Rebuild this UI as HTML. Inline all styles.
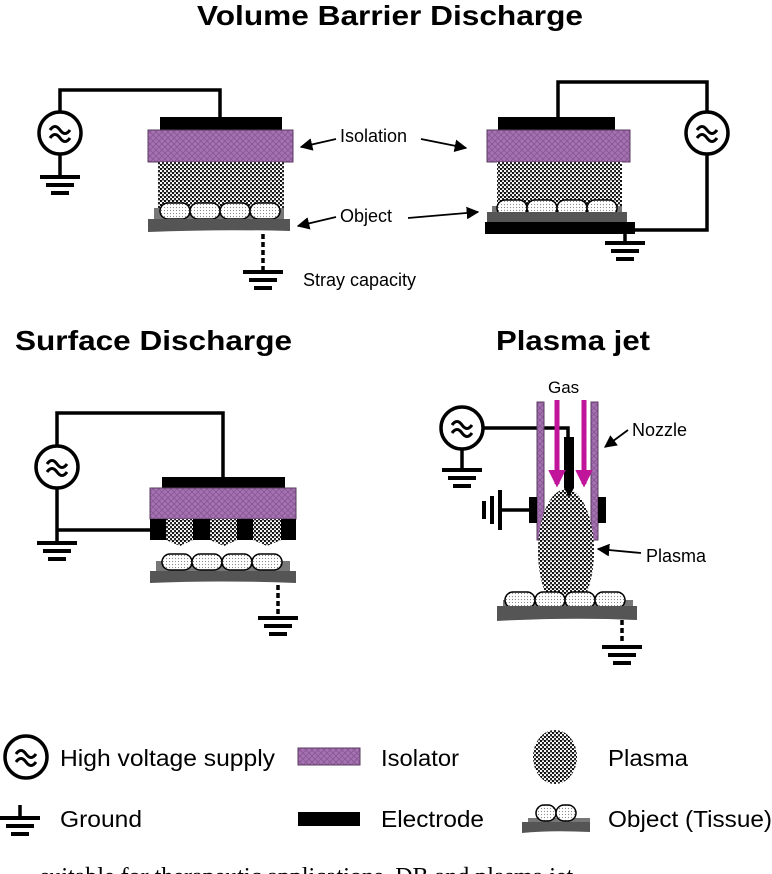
<!DOCTYPE html><html><head><meta charset="utf-8"><style>html,body{margin:0;padding:0;background:#fff}svg{display:block}</style></head><body>
<svg width="772" height="874" viewBox="0 0 772 874" xmlns="http://www.w3.org/2000/svg" font-family="Liberation Sans, Arial, sans-serif">
<defs>
<pattern id="pl" width="4" height="4" patternUnits="userSpaceOnUse"><rect width="4" height="4" fill="#fff"/><circle cx="1" cy="1" r="1.1" fill="#000"/><circle cx="3" cy="3" r="1.1" fill="#111"/><circle cx="3" cy="0.5" r="0.5" fill="#333"/></pattern>
<pattern id="iso" width="6" height="6" patternUnits="userSpaceOnUse"><rect width="6" height="6" fill="#a772b3"/><path d="M0 0L6 6M6 0L0 6" stroke="#8a5a96" stroke-width="1"/></pattern>
<pattern id="cell" width="3" height="3" patternUnits="userSpaceOnUse"><rect width="3" height="3" fill="#fff"/><circle cx="1.5" cy="1.5" r="0.6" fill="#888"/></pattern>
<marker id="ar" viewBox="0 0 10 10" refX="9" refY="5" markerWidth="7" markerHeight="7" orient="auto"><path d="M0 0L10 5L0 10z" fill="#000"/></marker>
<marker id="am" viewBox="0 0 10 10" refX="8" refY="5" markerWidth="3.5" markerHeight="3.5" orient="auto"><path d="M0 0L10 5L0 10z" fill="#c0149a"/></marker>
<g id="src"><circle r="21" fill="#fff" stroke="#000" stroke-width="3.5"/><path d="M-10 -3q5 -7 10 0t10 0M-10 5q5 -7 10 0t10 0" fill="none" stroke="#000" stroke-width="3"/></g>
<g id="gnd"><rect x="-20" y="-2" width="40" height="4"/><rect x="-14" y="6" width="28" height="4"/><rect x="-9" y="14" width="18" height="4"/></g>
<g id="cells"><rect x="0" y="0" width="30" height="16" rx="8" fill="url(#cell)" stroke="#000" stroke-width="1.5"/><rect x="30" y="0" width="30" height="16" rx="8" fill="url(#cell)" stroke="#000" stroke-width="1.5"/><rect x="60" y="0" width="30" height="16" rx="8" fill="url(#cell)" stroke="#000" stroke-width="1.5"/><rect x="90" y="0" width="30" height="16" rx="8" fill="url(#cell)" stroke="#000" stroke-width="1.5"/></g>
</defs>
<g font-weight="bold" font-size="28" fill="#000">
<text x="197" y="25" textLength="386" lengthAdjust="spacingAndGlyphs">Volume Barrier Discharge</text>
<text x="15" y="350" textLength="277" lengthAdjust="spacingAndGlyphs">Surface Discharge</text>
<text x="496" y="350" textLength="154" lengthAdjust="spacingAndGlyphs">Plasma jet</text>
</g>
<g stroke="#000" stroke-width="3.5" fill="none">
<path d="M60 112V90H220V117"/><path d="M60 154V177"/>
<path d="M558 117V82H707V112"/><path d="M707 154V230H625V243"/>
<path d="M57 446V413H223V477"/><path d="M57 488V543M57 530H150"/>
<path d="M484 428H568V440"/><path d="M462 450V470"/>
<path d="M500 510H530"/>
</g>
<g stroke="#000" stroke-width="3.5" stroke-dasharray="5,3">
<path d="M263 234V270"/><path d="M278 585V614"/><path d="M622 612V644"/>
</g>
<use href="#src" x="60" y="133"/><use href="#src" x="707" y="133"/><use href="#src" x="57" y="467"/><use href="#src" x="462" y="428"/>
<use href="#gnd" x="60" y="177"/><use href="#gnd" x="263" y="272"/><use href="#gnd" x="625" y="243"/><use href="#gnd" x="57" y="543"/><use href="#gnd" x="278" y="618"/><use href="#gnd" x="462" y="470"/><use href="#gnd" x="622" y="647"/>
<g transform="translate(500,510) rotate(90)"><use href="#gnd" x="0" y="0"/></g>
<rect x="160" y="117" width="122" height="13"/>
<rect x="148" y="130" width="145" height="32" fill="url(#iso)" stroke="#5a3a62"/>
<rect x="158" y="162" width="126" height="46" fill="url(#pl)"/>
<rect x="154" y="208" width="130" height="12" fill="#777"/>
<use href="#cells" x="160" y="203"/>
<path d="M148 219H290V231Q220 229 148 232Z" fill="#555"/>
<rect x="498" y="117" width="117" height="13"/>
<rect x="487" y="130" width="143" height="32" fill="url(#iso)" stroke="#5a3a62"/>
<rect x="497" y="162" width="125" height="44" fill="url(#pl)"/>
<rect x="492" y="206" width="130" height="12" fill="#777"/>
<use href="#cells" x="497" y="200"/>
<rect x="487" y="212" width="140" height="10" fill="#555"/>
<rect x="485" y="222" width="150" height="12"/>
<rect x="162" y="477" width="123" height="11"/>
<rect x="150" y="488" width="146" height="31" fill="url(#iso)" stroke="#5a3a62"/>
<rect x="150" y="519" width="146" height="21"/>
<path d="M166 519H193V540L180 546L166 540Z M210 519H237V540L224 546L210 540Z M253 519H281V540L267 546L253 540Z" fill="url(#pl)"/>
<rect x="156" y="561" width="134" height="11" fill="#777"/>
<use href="#cells" x="162" y="554"/>
<path d="M150 571H296V583Q220 580 150 583Z" fill="#555"/>
<rect x="537" y="402" width="7" height="138" fill="url(#iso)" stroke="#5a3a62"/>
<rect x="591" y="402" width="7" height="138" fill="url(#iso)" stroke="#5a3a62"/>
<ellipse cx="566" cy="551" rx="28" ry="62" fill="url(#pl)"/>
<path d="M564 437H574V488L569 497L564 488Z"/>
<rect x="529" y="497" width="8" height="26"/><rect x="598" y="497" width="8" height="26"/>
<g stroke="#c0149a" stroke-width="5"><path d="M557 400V484" marker-end="url(#am)"/><path d="M584 400V484" marker-end="url(#am)"/></g>
<rect x="503" y="600" width="130" height="10" fill="#777"/>
<use href="#cells" x="505" y="592"/>
<path d="M497 606H637V620Q570 617 497 621Z" fill="#555"/>
<g font-size="18" fill="#000">
<text x="340" y="142">Isolation</text>
<text x="340" y="222">Object</text>
<text x="303" y="286">Stray capacity</text>
<text x="548" y="393" font-size="17">Gas</text>
<text x="632" y="436">Nozzle</text>
<text x="646" y="562">Plasma</text>
</g>
<g stroke="#000" stroke-width="1.8" fill="none" marker-end="url(#ar)">
<path d="M336 139L301 147"/><path d="M421 139L466 148"/>
<path d="M336 217L298 226"/><path d="M408 218L478 212"/>
<path d="M628 430L605 447"/><path d="M641 553L598 549"/>
</g>
<use href="#src" x="26" y="757"/>
<rect x="298" y="748" width="62" height="17" fill="url(#iso)" stroke="#5a3a62"/>
<ellipse cx="555" cy="757" rx="22" ry="27" fill="url(#pl)"/>
<path d="M20 805V818" stroke="#000" stroke-width="3.5"/>
<g transform="translate(20,818)"><use href="#gnd"/></g>
<rect x="298" y="812" width="62" height="14"/>
<rect x="528" y="818" width="62" height="7" fill="#777"/>
<rect x="536" y="805" width="20" height="16" rx="8" fill="url(#cell)" stroke="#000" stroke-width="1.5"/>
<rect x="556" y="805" width="20" height="16" rx="8" fill="url(#cell)" stroke="#000" stroke-width="1.5"/>
<path d="M522 822H590V832Q550 830 522 833Z" fill="#555"/>
<g font-size="23" fill="#000">
<text x="60" y="766" textLength="215" lengthAdjust="spacingAndGlyphs">High voltage supply</text>
<text x="381" y="766" textLength="78" lengthAdjust="spacingAndGlyphs">Isolator</text>
<text x="608" y="766" textLength="80" lengthAdjust="spacingAndGlyphs">Plasma</text>
<text x="60" y="827" textLength="82" lengthAdjust="spacingAndGlyphs">Ground</text>
<text x="381" y="827" textLength="103" lengthAdjust="spacingAndGlyphs">Electrode</text>
<text x="608" y="827" textLength="164" lengthAdjust="spacingAndGlyphs">Object (Tissue)</text>
</g>
<text x="40" y="884" font-family="Liberation Serif, serif" font-size="24" fill="#000">suitable for therapeutic applications. DB and plasma jet</text>
</svg>
</body></html>
